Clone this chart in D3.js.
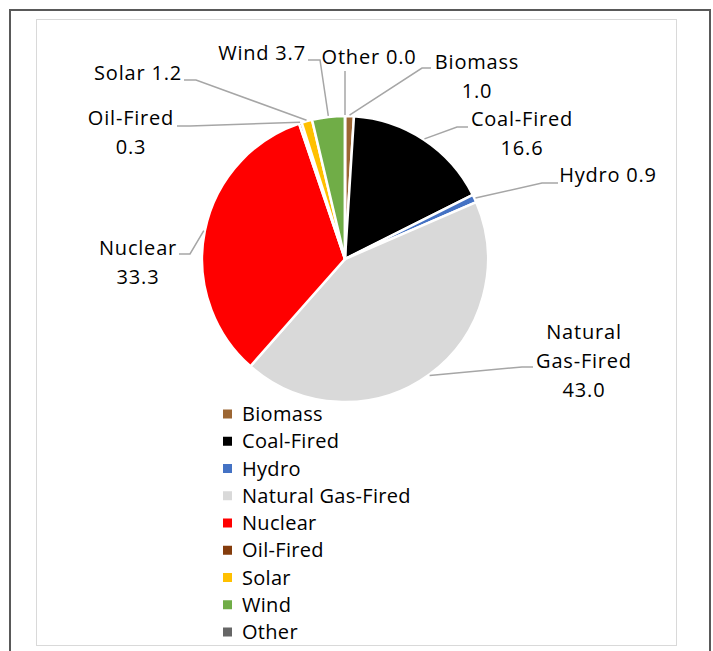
<!DOCTYPE html>
<html>
<head>
<meta charset="utf-8">
<script src="https://cdn.jsdelivr.net/npm/d3@7"></script>
<style>
  body { margin: 0; background: #fff; }
  svg { display: block; }
  .lbl { font-family: "Open Sans", sans-serif; font-size: 20px; letter-spacing: 0.8px; fill: #000; }
  .leg { font-family: "Open Sans", sans-serif; font-size: 20px; letter-spacing: 0.3px; fill: #000; }
</style>
</head>
<body>
<script>
const categories = ["Biomass", "Coal-Fired", "Hydro", "Natural Gas-Fired", "Nuclear", "Oil-Fired", "Solar", "Wind", "Other"];
const values = [1.0, 16.6, 0.9, 43.0, 33.3, 0.3, 1.2, 3.7, 0.0];
const colors = ["#9c6633", "#000000", "#4472c4", "#d9d9d9", "#ff0000", "#843c0c", "#ffc000", "#70ad47", "#666666"];
// label text lines as shown beside the pie
const labelLines = [
  ["Biomass", "1.0"],
  ["Coal-Fired", "16.6"],
  ["Hydro 0.9"],
  ["Natural", "Gas-Fired", "43.0"],
  ["Nuclear", "33.3"],
  ["Oil-Fired", "0.3"],
  ["Solar 1.2"],
  ["Wind 3.7"],
  ["Other 0.0"]
];

function render() {
  const w = 713, h = 651;
  const cx = 345, cy = 259, r = 143;

  // label placement: text centre x, first line y, leader start + elbow
  const layout = [
    { x: 477, y: 62,  lead: [[431, 68], [422, 68]] },
    { x: 522, y: 119, lead: [[468, 127], [457, 127]] },
    { x: 608, y: 175, lead: [[558, 183], [542, 183]] },
    { x: 584, y: 332, lead: [[533, 367], [522, 367]] },
    { x: 138, y: 248, lead: [[179, 254], [190, 254]] },
    { x: 131, y: 118, lead: [[177, 126], [190, 126]] },
    { x: 138, y: 73,  lead: [[184, 80], [196, 80]] },
    { x: 262, y: 53,  lead: [[308, 60], [320, 60]] },
    { x: 369, y: 57,  lead: [[345, 71]] }
  ];

  const svg = d3.select("body")
    .append("svg")
    .attr("width", w)
    .attr("height", h);

  svg.append("rect")
    .attr("x", 10).attr("y", 10)
    .attr("width", 700).attr("height", 660)
    .attr("fill", "none")
    .attr("stroke", "#595959")
    .attr("stroke-width", 2);

  svg.append("rect")
    .attr("x", 36.5).attr("y", 19.5)
    .attr("width", 640).attr("height", 626)
    .attr("fill", "#fff")
    .attr("stroke", "#d9d9d9")
    .attr("stroke-width", 1);

  const data = categories.map((c, i) => ({ name: c, value: values[i], color: colors[i], lines: labelLines[i], pos: layout[i] }));

  const pie = d3.pie().value(d => d.value).sort(null);
  const arcs = pie(data);

  const arc = d3.arc().innerRadius(0).outerRadius(r);
  const edge = d3.arc().innerRadius(r + 1).outerRadius(r + 1);

  const g = svg.append("g").attr("transform", `translate(${cx},${cy})`);

  g.selectAll("path.slice")
    .data(arcs)
    .enter()
    .append("path")
    .attr("class", "slice")
    .attr("d", arc)
    .attr("fill", d => d.data.color)
    .attr("stroke", "#fff")
    .attr("stroke-width", 2.5)
    .attr("stroke-linejoin", "round");

  // leader lines
  const line = d3.line();
  svg.selectAll("path.lead")
    .data(arcs)
    .enter()
    .append("path")
    .attr("class", "lead")
    .attr("d", d => {
      const p = edge.centroid(d);
      return line(d.data.pos.lead.concat([[cx + p[0], cy + p[1]]]));
    })
    .attr("fill", "none")
    .attr("stroke", "#a6a6a6")
    .attr("stroke-width", 1.5);

  const labels = svg.selectAll("text.lbl")
    .data(data)
    .enter()
    .append("text")
    .attr("class", "lbl")
    .attr("text-anchor", "middle");

  labels.selectAll("tspan")
    .data(d => d.lines.map((t, k) => ({ t: t, x: d.pos.x, y: d.pos.y + k * 29 })))
    .enter()
    .append("tspan")
    .attr("x", d => d.x)
    .attr("y", d => d.y)
    .attr("dy", "0.35em")
    .text(d => d.t);

  // legend
  const legY = d3.scalePoint().domain(categories).range([414, 632]);
  const leg = svg.selectAll("g.legend")
    .data(data)
    .enter()
    .append("g")
    .attr("class", "legend")
    .attr("transform", d => `translate(0,${legY(d.name)})`);

  leg.append("rect")
    .attr("x", 223).attr("y", -4.5)
    .attr("width", 9).attr("height", 9)
    .attr("fill", d => d.color);

  leg.append("text")
    .attr("class", "leg")
    .attr("x", 242)
    .attr("dy", "0.35em")
    .text(d => d.name);
}

render();
</script>
</body>
</html>
